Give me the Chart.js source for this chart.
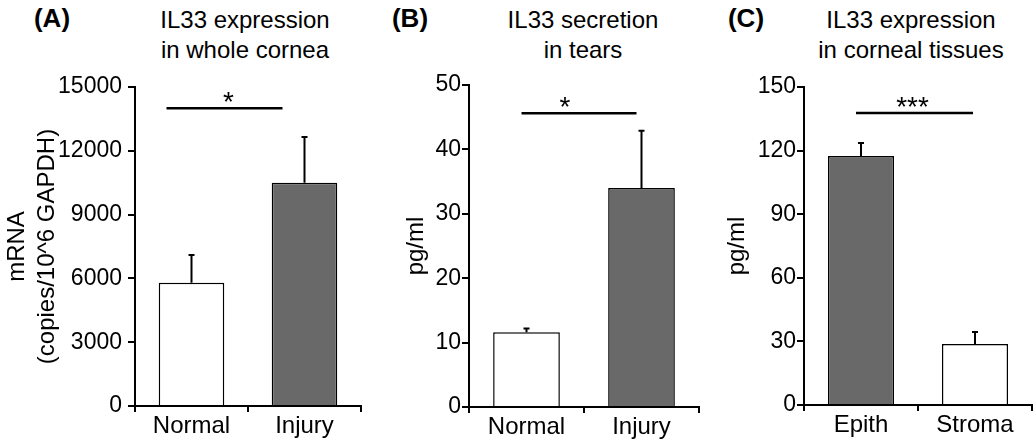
<!DOCTYPE html>
<html>
<head>
<meta charset="utf-8">
<script src="https://cdn.jsdelivr.net/npm/chart.js@4"></script>
<style>
  html, body { margin: 0; padding: 0; background: #fff; }
  #wrap { position: relative; width: 1035px; height: 444px; overflow: hidden;
          font-family: 'Liberation Sans', Arial, sans-serif; color: #000; }
  canvas { position: absolute; left: 0; top: 0; }
  .lbl { position: absolute; top: 3px; width: 80px; text-align: center;
         font-weight: bold; font-size: 26px; line-height: 30px; }
  .ttl { position: absolute; top: 5px; width: 260px; text-align: center;
         font-size: 24px; line-height: 30px; }
</style>
</head>
<body>
<div id="wrap">
  <div class="lbl" style="left:12px">(A)</div>
  <div class="lbl" style="left:370px">(B)</div>
  <div class="lbl" style="left:706px">(C)</div>
  <div class="ttl" style="left:115px">IL33 expression<br>in whole cornea</div>
  <div class="ttl" style="left:453px">IL33 secretion<br>in tears</div>
  <div class="ttl" style="left:781px">IL33 expression<br>in corneal tissues</div>
  <canvas id="chartA" width="1035" height="444"></canvas>
  <canvas id="chartB" width="1035" height="444"></canvas>
  <canvas id="chartC" width="1035" height="444"></canvas>
</div>
<script>
// panel A - whole cornea mRNA
const catsA = ['Normal', 'Injury'];
const meanA = [5800, 10500];
const errA = [1300, 2150];
const ticksA = [0, 3000, 6000, 9000, 12000, 15000];
const sigA = 14000;

// panel B - tears
const catsB = ['Normal', 'Injury'];
const meanB = [11.6, 34.0];
const errB = [0.6, 8.9];
const ticksB = [0, 10, 20, 30, 40, 50];
const sigB = 45.6;

// panel C - corneal tissues
const catsC = ['Epith', 'Stroma'];
const meanC = [117.5, 28.8];
const errC = [6.1, 5.6];
const ticksC = [0, 30, 60, 90, 120, 150];
const sigC = 137.7;

const FONT = "'Liberation Sans', Arial, sans-serif";
const GREY = '#696969';

// error bars (upper only) and the significance bar
const errorBars = {
  id: 'errorBars',
  afterDatasetsDraw(chart, args, opts) {
    const { ctx } = chart;
    const x = chart.scales.x, y = chart.scales.y;
    const vals = chart.data.datasets[0].data;
    ctx.save();
    ctx.strokeStyle = '#000';
    ctx.lineWidth = 2;
    vals.forEach((v, i) => {
      const px = x.getPixelForValue(i);
      const base = y.getPixelForValue(v);
      const top = y.getPixelForValue(v + opts.err[i]);
      ctx.beginPath();
      ctx.moveTo(px, base);
      ctx.lineTo(px, top);
      ctx.moveTo(px - 3, top);
      ctx.lineTo(px + 3, top);
      ctx.stroke();
    });
    const ly = y.getPixelForValue(opts.sig);
    const x0 = x.getPixelForValue(0) + opts.sigDx[0];
    const x1 = x.getPixelForValue(1) + opts.sigDx[1];
    ctx.lineWidth = 2.5;
    ctx.beginPath();
    ctx.moveTo(x0, ly);
    ctx.lineTo(x1, ly);
    ctx.stroke();
    ctx.fillStyle = '#000';
    ctx.font = '28px ' + FONT;
    ctx.textAlign = 'center';
    ctx.textBaseline = 'alphabetic';
    ctx.fillText(opts.mark, (x0 + x1) / 2 + opts.markDx, ly + 3);
    ctx.restore();
  }
};

function panel(id, cats, means, errs, ticks, fills, yTitle, lay) {
  return new Chart(document.getElementById(id), {
    type: 'bar',
    data: {
      labels: cats,
      datasets: [{
        data: means,
        backgroundColor: fills,
        borderColor: '#000',
        borderWidth: 1.5,
        barPercentage: 0.58,
        categoryPercentage: 1
      }]
    },
    options: {
      responsive: false,
      animation: false,
      events: [],
      layout: { padding: { left: lay.left, right: lay.right, top: lay.top, bottom: 0 } },
      plugins: {
        legend: { display: false },
        tooltip: { enabled: false },
        errorBars: { err: errs, sig: lay.sig, sigDx: lay.sigDx, mark: lay.mark, markDx: lay.markDx }
      },
      scales: {
        x: {
          z: 1,
          offset: true,
          grid: { offset: true, drawOnChartArea: false, tickLength: 6, color: '#000', lineWidth: 2 },
          border: { color: '#000', width: 2 },
          ticks: { color: '#000', font: { size: 24, family: FONT }, padding: 0, maxRotation: 0 },
          afterFit: s => { s.height = lay.xh; }
        },
        y: {
          z: 1,
          min: 0,
          max: ticks[ticks.length - 1],
          afterBuildTicks: s => { s.ticks = ticks.map(v => ({ value: v })); },
          grid: { drawOnChartArea: false, tickLength: 7, color: '#000', lineWidth: 2 },
          border: { color: '#000', width: 2 },
          ticks: { color: '#000', font: { size: 23, family: FONT }, padding: lay.tickPad,
                   callback: v => String(v) },
          title: { display: true, text: yTitle, color: '#000',
                   font: { size: 24, family: FONT, lineHeight: 1.22 },
                   padding: { top: lay.titlePad, bottom: 0 } },
          afterFit: s => { s.width = lay.yw; }
        }
      }
    },
    plugins: [errorBars]
  });
}

panel('chartA', catsA, meanA, errA, ticksA, ['#fff', GREY],
  ['mRNA', '(copies/10^6 GAPDH)'],
  { left: 0, right: 674, top: 87, xh: 38, yw: 135, tickPad: 6, titlePad: 3,
    sig: sigA, sigDx: [-25, -22], mark: '*', markDx: 4 });

panel('chartB', catsB, meanB, errB, ticksB, ['#fff', GREY],
  'pg/ml',
  { left: 345, right: 336, top: 85, xh: 37, yw: 124, tickPad: 1, titlePad: 57,
    sig: sigB, sigDx: [-5, -5], mark: '*', markDx: -14 });

panel('chartC', catsC, meanC, errC, ticksC, [GREY, '#fff'],
  'pg/ml',
  { left: 690, right: 3, top: 87, xh: 39, yw: 114, tickPad: 1, titlePad: 33,
    sig: sigC, sigDx: [-5, -2], mark: '***', markDx: -2 });
</script>
</body>
</html>
